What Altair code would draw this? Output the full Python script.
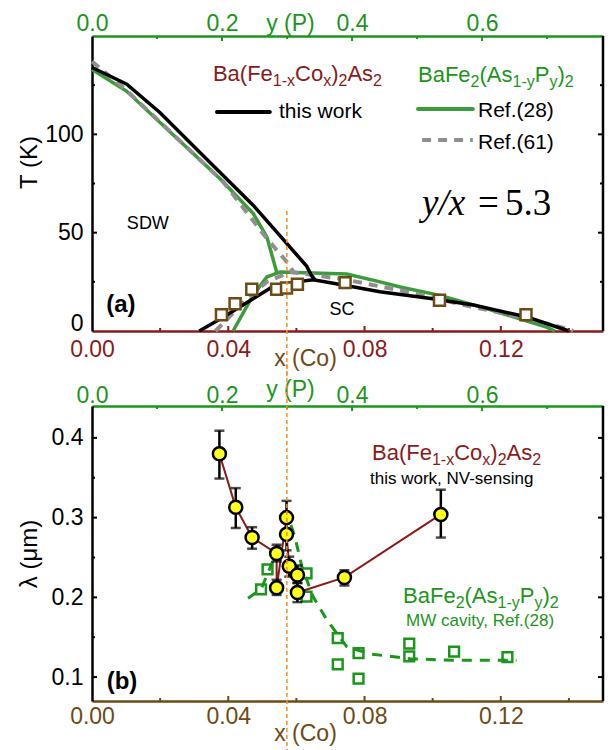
import altair as alt
import pandas as pd

FONT = "Liberation Sans"
SERIF = "Liberation Serif"

BLACK = "#000000"
DARKRED = "#8b1a1a"
BROWN = "#6e4a14"
GREEN = "#1b961b"
GREEN_LINE = "#3c9c3c"
GRAY = "#8f8f8f"
ORANGE = "#ff8c1a"
YELLOW = "#ffff1e"

W, H = 511, 295

# ---------------- Panel (a) data ----------------
# Ba(Fe1-xCox)2As2, this work (x = Co)
a_sdw_x = [0.0, 0.0102, 0.0200, 0.0356, 0.0473, 0.0630, 0.0645, 0.0655]
a_sdw_T = [134, 125.5, 111, 84, 64, 33, 28, 26]
a_sc_x = [0.0315, 0.0385, 0.0473, 0.0530, 0.0600, 0.0650, 0.0737, 0.0845, 0.1000, 0.1120, 0.1277, 0.1400]
a_sc_T = [0, 7, 16.4, 22.5, 25, 26, 23.4, 20, 16.4, 13.2, 7.1, 0]
a_tc_x = [0.038, 0.042, 0.0469, 0.0542, 0.0571, 0.0603, 0.0743, 0.102, 0.1274]
a_tc_T = [8.3, 13.9, 21.2, 21.2, 21.9, 23.8, 24.6, 15.6, 8.3]
# BaFe2(As1-yPy)2 (y = P)
r28_sdw_p = [0.0, 0.053, 0.197, 0.248, 0.269, 0.284]
r28_sdw_T = [133, 122, 77.4, 59.7, 47.8, 30]
r28_sc_p = [0.217, 0.248, 0.269, 0.289, 0.392, 0.443, 0.474, 0.535, 0.607, 0.699, 0.712]
r28_sc_T = [0, 18.3, 27.5, 30, 29, 25, 22.4, 18.1, 11.4, 2, 0]
r61_sdw_p = [0.0, 0.051, 0.202, 0.269, 0.300, 0.310]
r61_sdw_T = [137, 123, 75.8, 47, 35, 30]
r61_sc_p = [0.190, 0.238, 0.269, 0.305, 0.340, 0.387, 0.474, 0.576, 0.669, 0.730, 0.740]
r61_sc_T = [0, 16.4, 25, 30, 28.5, 26.3, 20.7, 13, 6.3, 1.2, 0]

# ---------------- Panel (b) data ----------------
b_order = [0, 1, 2, 4, 3, 5, 6, 7, 8, 9, 10, 11]
b_x = [0.0374, 0.0422, 0.0470, 0.0542, 0.0542, 0.0571, 0.0571, 0.0579, 0.0603, 0.0603, 0.0741, 0.1024]
b_lam = [0.380, 0.313, 0.275, 0.212, 0.255, 0.300, 0.279, 0.239, 0.228, 0.206, 0.225, 0.304]
b_lo = [0.349, 0.287, 0.261, 0.203, 0.245, 0.280, 0.259, 0.226, 0.218, 0.194, 0.215, 0.275]
b_hi = [0.409, 0.337, 0.288, 0.222, 0.266, 0.321, 0.299, 0.251, 0.240, 0.218, 0.234, 0.335]
mw_p = [0.260, 0.270, 0.330, 0.330, 0.378, 0.378, 0.410, 0.410, 0.488, 0.488, 0.557, 0.639]
mw_lam = [0.210, 0.235, 0.230, 0.201, 0.149, 0.116, 0.130, 0.098, 0.142, 0.126, 0.132, 0.125]
mwfit_p = [0.240, 0.260, 0.279, 0.294, 0.305, 0.312, 0.323, 0.340, 0.361, 0.392, 0.428, 0.489, 0.556, 0.653]
mwfit_lam = [0.199, 0.210, 0.247, 0.276, 0.293, 0.276, 0.238, 0.201, 0.172, 0.138, 0.129, 0.123, 0.121, 0.121]

x_crit = 0.0572

co_major = [0.04, 0.08, 0.12]
co_minor = [0.02, 0.06, 0.10, 0.14]
p_major = [0.2, 0.4, 0.6]
p_minor = [0.1, 0.3, 0.5, 0.7]
T_major = [50, 100]
T_minor = [25, 75, 125]
lam_major = [0.1, 0.2, 0.3, 0.4]
lam_minor = [0.15, 0.25, 0.35]

CO_SCALE = alt.Scale(domain=[0, 0.15], nice=False, zero=False)
P_SCALE = alt.Scale(domain=[0, 0.786], nice=False, zero=False)
T_SCALE = alt.Scale(domain=[0, 150], nice=False, zero=False)
L_SCALE = alt.Scale(domain=[0.07, 0.44], nice=False, zero=False)

ONE = pd.DataFrame({"k": [0]})

ARIAL = {" ": 278, "(": 333, ")": 333, "-": 333, ".": 278, ",": 278, "=": 584, "/": 278,
         "A": 667, "B": 667, "C": 722, "F": 611, "M": 833, "N": 722, "P": 667, "R": 722, "V": 667, "W": 944,
         "a": 556, "c": 500, "e": 556, "f": 278, "g": 556, "h": 556, "i": 222, "k": 500, "n": 556,
         "o": 556, "r": 333, "s": 500, "t": 278, "v": 500, "w": 722, "x": 500, "y": 500}


def tw(s, size):
    return sum(ARIAL.get(c, 556) for c in s) * size / 1000.0


def rich_text(parts, x, y, yscale, color, size=22, sub_size=16, sub_dy=5):
    out = []
    off = 0.0
    for t, sub in parts:
        fs = sub_size if sub else size
        out.append(alt.Chart(ONE).mark_text(
            text=t, font=FONT, fontSize=fs, color=color, align="left", baseline="alphabetic",
            dx=round(off, 1), dy=sub_dy if sub else 0).encode(
            x=alt.X(datum=x, scale=CO_SCALE, axis=None), y=alt.Y(datum=y, scale=yscale, axis=None)))
        off += tw(t, fs)
    return out


def plain_text(t, x, y, yscale, color=BLACK, size=20, align="left", baseline="alphabetic", weight="normal",
               font=FONT, style="normal", dx=0):
    return alt.Chart(ONE).mark_text(text=t, font=font, fontSize=size, color=color, align=align,
                                    baseline=baseline, fontWeight=weight, fontStyle=style, dx=dx).encode(
        x=alt.X(datum=x, scale=CO_SCALE, axis=None), y=alt.Y(datum=y, scale=yscale, axis=None))


def seg(x1, x2, y, yscale, color, width=4, dash=None):
    kw = dict(color=color, strokeWidth=width, strokeCap="round")
    if dash:
        kw["strokeDash"] = dash
        kw["strokeCap"] = "butt"
    return alt.Chart(ONE).mark_rule(**kw).encode(
        x=alt.X(datum=x1, scale=CO_SCALE, axis=None), x2=alt.datum(x2),
        y=alt.Y(datum=y, scale=yscale, axis=None))


def xticks(vals, scale, color, length, top=False):
    y0, y1 = (0, length) if top else (H, H - length)
    return alt.Chart(pd.DataFrame({"v": vals})).mark_rule(color=color, strokeWidth=2).encode(
        x=alt.X("v:Q", scale=scale, axis=None), y=alt.value(y0), y2=alt.value(y1))


def yticks(vals, scale, length, right=False):
    x0, x1 = (W, W - length) if right else (0, length)
    return alt.Chart(pd.DataFrame({"v": vals})).mark_rule(color=BLACK, strokeWidth=2).encode(
        y=alt.Y("v:Q", scale=scale, axis=None), x=alt.value(x0), x2=alt.value(x1))


def right_border():
    return alt.Chart(ONE).mark_rule(color=BLACK, strokeWidth=2.5).encode(
        x=alt.value(W), y=alt.value(0), y2=alt.value(H))


def line(xs, ys, xf, yf, xscale, yscale, color, width, dash=None, xaxis=None, yaxis=None):
    kw = dict(color=color, strokeWidth=width)
    if dash:
        kw["strokeDash"] = dash
    return alt.Chart(pd.DataFrame({xf: xs, yf: ys})).mark_line(**kw).encode(
        x=alt.X(f"{xf}:Q", scale=xscale, axis=xaxis), y=alt.Y(f"{yf}:Q", scale=yscale, axis=yaxis))


AX = dict(grid=False, ticks=False, labelFont=FONT, labelFontSize=23, titleFont=FONT, titleFontSize=23,
          titleFontWeight="normal", domainWidth=2.5, labelFlush=False, labelOverlap=False)

PB = ["Ba(Fe", "1-x", "Co", "x", ")", "2", "As", "2"]
PB = [(t, i % 2 == 1) for i, t in enumerate(PB)]
PP = ["BaFe", "2", "(As", "1-y", "P", "y", ")", "2"]
PP = [(t, i % 2 == 1) for i, t in enumerate(PP)]

# ---------------- Panel (a) ----------------
co_axis_a = alt.Axis(orient="bottom", values=[0, 0.04, 0.08, 0.12], format=".2f", labelColor=DARKRED,
                     domainColor=DARKRED, labelPadding=7, title="x (Co)", titleColor=BROWN,
                     titleX=213, titleY=34, titleBaseline="alphabetic", titleAlign="center", **AX)
p_axis_a = alt.Axis(orient="top", values=[0, 0.2, 0.4, 0.6], format=".1f", labelColor=GREEN,
                    domainColor=GREEN, labelPadding=6, labelBaseline="alphabetic", title="y (P)",
                    titleColor=GREEN, titleX=198, titleY=-6, titleBaseline="alphabetic", titleAlign="center",
                    **AX)
T_axis = alt.Axis(orient="left", values=[0, 50, 100], format="d", labelColor=BLACK, domainColor=BLACK,
                  labelPadding=9, labelOffset=alt.expr("datum.value == 0 ? -8 : 0"),
                  title="T (K)", titleColor=BLACK, titleX=-51, titleY=126,
                  titleAngle=270, titleBaseline="bottom", titleAlign="center",
                  **{**AX, "titleFontSize": 24})

layers_a = [
    line(r28_sdw_p, r28_sdw_T, "p", "T", P_SCALE, T_SCALE, GREEN_LINE, 3.5, xaxis=p_axis_a, yaxis=T_axis),
    line(r28_sc_p, r28_sc_T, "p", "T", P_SCALE, T_SCALE, GREEN_LINE, 3.5),
    line(r61_sdw_p, r61_sdw_T, "p", "T", P_SCALE, T_SCALE, GRAY, 4, dash=[9, 7]),
    line(r61_sc_p, r61_sc_T, "p", "T", P_SCALE, T_SCALE, GRAY, 4, dash=[9, 7]),
    xticks(p_major, P_SCALE, GREEN, 5, top=True),
    xticks(p_minor, P_SCALE, GREEN, 3, top=True),
    line(a_sdw_x, a_sdw_T, "x", "T", CO_SCALE, T_SCALE, BLACK, 3.5, xaxis=co_axis_a),
    line(a_sc_x, a_sc_T, "x", "T", CO_SCALE, T_SCALE, BLACK, 3.5),
    alt.Chart(pd.DataFrame({"x": a_tc_x, "T": a_tc_T})).mark_point(
        shape="square", filled=True, fill="white", stroke=BROWN, strokeWidth=2.5, size=120, opacity=1).encode(
        x=alt.X("x:Q", scale=CO_SCALE, axis=None), y=alt.Y("T:Q", scale=T_SCALE, axis=None)),
    alt.Chart(ONE).mark_rule(color=ORANGE, strokeWidth=1.5, strokeDash=[4, 3]).encode(
        x=alt.X(datum=x_crit, scale=CO_SCALE, axis=None), y=alt.Y(datum=61, scale=T_SCALE, axis=None),
        y2=alt.value(H + 45)),
    xticks(co_major, CO_SCALE, DARKRED, 5),
    xticks(co_minor, CO_SCALE, DARKRED, 3),
    yticks(T_major, T_SCALE, 5), yticks(T_minor, T_SCALE, 3),
    yticks(T_major, T_SCALE, 5, right=True), yticks(T_minor, T_SCALE, 3, right=True),
    right_border(),
    *rich_text(PB, 0.0355, 127.1, T_SCALE, DARKRED),
    seg(0.0367, 0.0522, 111.4, T_SCALE, BLACK),
    plain_text("this work", 0.0549, 108.3, T_SCALE, size=21),
    *rich_text(PP, 0.0957, 126.6, T_SCALE, GREEN),
    seg(0.0957, 0.1118, 112.9, T_SCALE, GREEN_LINE),
    plain_text("Ref.(28)", 0.1133, 108.8, T_SCALE, size=21),
    seg(0.0969, 0.1118, 97.1, T_SCALE, GRAY, dash=[9, 7]),
    plain_text("Ref.(61)", 0.1133, 92.5, T_SCALE, size=21),
    plain_text("y/x", 0.0969, 59, T_SCALE, size=37, font=SERIF, style="italic"),
    plain_text("=", 0.0969, 59, T_SCALE, size=37, font=SERIF, dx=56),
    plain_text("5.3", 0.0969, 59, T_SCALE, size=37, font=SERIF, dx=83),
    plain_text("SDW", 0.0164, 54.4, T_SCALE, size=18, align="center", baseline="middle"),
    plain_text("SC", 0.0734, 10.7, T_SCALE, size=18, align="center", baseline="middle"),
    plain_text("(a)", 0.0085, 13.2, T_SCALE, size=24, align="center", baseline="middle", weight="bold"),
]
panel_a = alt.layer(*layers_a).resolve_scale(x="independent", y="independent").properties(width=W, height=H)

# ---------------- Panel (b) ----------------
co_axis_b = alt.Axis(orient="bottom", values=[0, 0.04, 0.08, 0.12], format=".2f", labelColor=BROWN,
                     domainColor=BROWN, labelPadding=4, title="x (Co)", titleColor=BROWN,
                     titleX=213, titleY=39, titleBaseline="alphabetic", titleAlign="center", **AX)
p_axis_b = alt.Axis(orient="top", values=[0, 0.2, 0.4, 0.6], format=".1f", labelColor=GREEN,
                    domainColor=GREEN, labelPadding=4, labelBaseline="alphabetic", title="y (P)",
                    titleColor=GREEN, titleX=198, titleY=-10, titleBaseline="alphabetic", titleAlign="center",
                    **AX)
L_axis = alt.Axis(orient="left", values=[0.1, 0.2, 0.3, 0.4], format=".1f", labelColor=BLACK, domainColor=BLACK,
                  labelPadding=9, title="λ (μm)", titleColor=BLACK, titleX=-51,
                  titleAngle=270, titleBaseline="bottom", titleAlign="center",
                  **{**AX, "titleFontSize": 24})

b_df = pd.DataFrame({"x": b_x, "lam": b_lam, "lo": b_lo, "hi": b_hi, "o": b_order})
BX = alt.X("x:Q", scale=CO_SCALE, axis=None)

layers_b = [
    line(mwfit_p, mwfit_lam, "p", "lam", P_SCALE, L_SCALE, GREEN, 3, dash=[10, 8], xaxis=p_axis_b, yaxis=L_axis),
    alt.Chart(pd.DataFrame({"p": mw_p, "lam": mw_lam})).mark_point(
        shape="square", filled=False, stroke=GREEN, strokeWidth=2.5, size=95, opacity=1).encode(
        x=alt.X("p:Q", scale=P_SCALE, axis=None), y=alt.Y("lam:Q", scale=L_SCALE, axis=None)),
    xticks(p_major, P_SCALE, GREEN, 5, top=True),
    xticks(p_minor, P_SCALE, GREEN, 3, top=True),
    alt.Chart(b_df).mark_line(color=DARKRED, strokeWidth=2).encode(
        x=alt.X("x:Q", scale=CO_SCALE, axis=co_axis_b), y=alt.Y("lam:Q", scale=L_SCALE, axis=None), order="o:Q"),
    alt.Chart(b_df).mark_rule(color=BLACK, strokeWidth=2.5).encode(
        x=BX, y=alt.Y("lo:Q", scale=L_SCALE, axis=None), y2="hi:Q"),
    alt.Chart(b_df).mark_tick(color=BLACK, orient="horizontal", size=10, thickness=2.5).encode(
        x=BX, y=alt.Y("lo:Q", scale=L_SCALE, axis=None)),
    alt.Chart(b_df).mark_tick(color=BLACK, orient="horizontal", size=10, thickness=2.5).encode(
        x=BX, y=alt.Y("hi:Q", scale=L_SCALE, axis=None)),
    alt.Chart(b_df).mark_circle(color=YELLOW, stroke=BLACK, strokeWidth=2.5, size=170, opacity=1).encode(
        x=BX, y=alt.Y("lam:Q", scale=L_SCALE, axis=None)),
    alt.Chart(ONE).mark_rule(color=ORANGE, strokeWidth=1.5, strokeDash=[4, 3]).encode(
        x=alt.X(datum=x_crit, scale=CO_SCALE, axis=None), y=alt.value(-42), y2=alt.value(H + 60)),
    xticks(co_major, CO_SCALE, BROWN, 5),
    xticks(co_minor, CO_SCALE, BROWN, 3),
    yticks(lam_major, L_SCALE, 5), yticks(lam_minor, L_SCALE, 3),
    yticks(lam_major, L_SCALE, 5, right=True), yticks(lam_minor, L_SCALE, 3, right=True),
    right_border(),
    *rich_text(PB, 0.0822, 0.3723, L_SCALE, DARKRED),
    plain_text("this work, NV-sensing", 0.0816, 0.342, L_SCALE, size=17),
    *rich_text(PP, 0.0913, 0.1928, L_SCALE, GREEN),
    plain_text("MW cavity, Ref.(28)", 0.0922, 0.164, L_SCALE, color=GREEN, size=17),
    plain_text("(b)", 0.0088, 0.0937, L_SCALE, size=24, align="center", baseline="middle", weight="bold"),
]
panel_b = alt.layer(*layers_b).resolve_scale(x="independent", y="independent").properties(width=W, height=H)

chart = alt.vconcat(panel_a, panel_b, spacing=75, bounds="flush").properties(
    padding={"left": 9, "top": 4, "right": 0, "bottom": 0}
).configure_view(strokeWidth=0)

chart.save("out.html", embed_options={"renderer": "svg", "actions": False})
